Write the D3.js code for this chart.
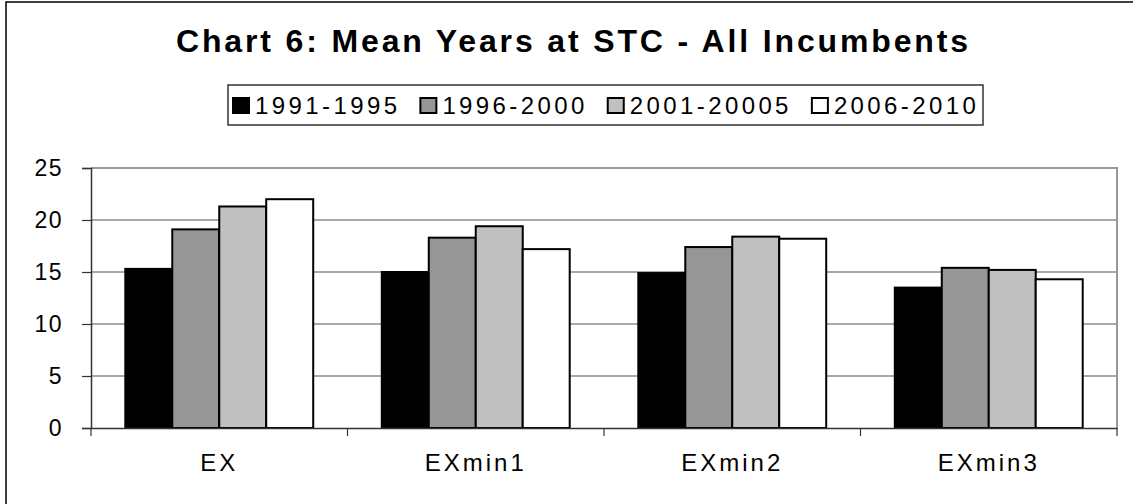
<!DOCTYPE html>
<html>
<head>
<meta charset="utf-8">
<script src="https://cdn.jsdelivr.net/npm/d3@7"></script>
<style>
  body { margin:0; background:#fff; }
  svg text { font-family:"Liberation Sans", Arial, sans-serif; fill:#000; }
</style>
</head>
<body>
<div id="chart"></div>
<script>
// data
var categories=["EX","EXmin1","EXmin2","EXmin3"];
var seriesNames=["1991-1995","1996-2000","2001-20005","2006-2010"];
var s1991=[15.3,15.0,14.9,13.5];
var s1996=[19.1,18.3,17.4,15.4];
var s2001=[21.3,19.4,18.4,15.2];
var s2006=[22.0,17.2,18.2,14.3];
var yTicks=[0,5,10,15,20,25];
var seriesColors=["#000000","#969696","#c0c0c0","#ffffff"];

var w=1133, h=504;
var plot={left:91, right:1117, top:168, bottom:428};

var svg=d3.select("#chart").append("svg")
          .attr("width",w)
          .attr("height",h);

svg.append("rect").attr("width",w).attr("height",h).attr("fill","#fff");

// outer chart frame (clipped on the right and bottom like the original)
svg.append("rect")
   .attr("x",6).attr("y",2)
   .attr("width",w+20).attr("height",h+20)
   .attr("fill","none")
   .attr("stroke","#000")
   .attr("stroke-width",1.5);

//Title
svg.append("text")
   .attr("x",572)
   .attr("y",52)
   .attr("text-anchor","middle")
   .attr("font-size",32)
   .attr("font-weight","bold")
   .attr("textLength",792)
   .attr("lengthAdjust","spacing")
   .text("Chart 6: Mean Years at STC - All Incumbents");

//Scales
var xScale=d3.scaleBand()
             .domain(categories)
             .range([plot.left,plot.right]);
var xInner=d3.scaleBand()
             .domain(seriesNames)
             .range([0,xScale.bandwidth()])
             .paddingInner(0)
             .paddingOuter(0.73);
var yScale=d3.scaleLinear()
             .domain([0,25])
             .range([plot.bottom,plot.top]);

//Gridlines
svg.append("g")
   .selectAll("line")
   .data(yTicks.filter(function(d) {return d>0 && d<25;}))
   .enter()
   .append("line")
   .attr("x1",plot.left).attr("x2",plot.right)
   .attr("y1",function(d) {return yScale(d);})
   .attr("y2",function(d) {return yScale(d);})
   .attr("stroke","#555")
   .attr("stroke-width",1.2);

//Plot area border (top and right)
svg.append("path")
   .attr("d","M"+plot.left+","+yScale(25)+"H"+plot.right+"V"+plot.bottom)
   .attr("fill","none")
   .attr("stroke","#999")
   .attr("stroke-width",2);

//Bars
var series=[s1991,s1996,s2001,s2006];
series.forEach(function(vals,i) {
    svg.append("g")
       .selectAll("rect")
       .data(vals)
       .enter()
       .append("rect")
       .attr("x",function(d,j) {return xScale(categories[j])+xInner(seriesNames[i]);})
       .attr("y",function(d) {return yScale(d);})
       .attr("width",xInner.bandwidth())
       .attr("height",function(d) {return yScale(0)-yScale(d);})
       .attr("fill",seriesColors[i])
       .attr("stroke","#000")
       .attr("stroke-width",2);
});

//Y axis
var yAxis=d3.axisLeft(yScale).tickValues(yTicks).tickSize(9).tickPadding(19);
var gy=svg.append("g")
          .attr("transform","translate("+plot.left+",0)")
          .call(yAxis);
gy.select(".domain").attr("stroke","#333").attr("stroke-width",1.5);
gy.selectAll(".tick line").attr("stroke","#333").attr("stroke-width",1.2);
gy.selectAll(".tick text")
  .attr("font-size",23)
  .attr("font-family","Liberation Sans, Arial, sans-serif")
  .attr("letter-spacing",1.5)
  .attr("fill","#000");

//X axis
var xAxis=d3.axisBottom(xScale).tickSize(0).tickPadding(26);
var gx=svg.append("g")
          .attr("transform","translate(0,"+plot.bottom+")")
          .call(xAxis);
gx.select(".domain").attr("stroke","#333").attr("stroke-width",1.5);
gx.selectAll(".tick text")
  .attr("font-size",24)
  .attr("font-family","Liberation Sans, Arial, sans-serif")
  .attr("letter-spacing",3)
  .attr("fill","#000");
//category separator ticks
svg.append("g")
   .selectAll("line")
   .data(categories.concat(["end"]))
   .enter()
   .append("line")
   .attr("x1",function(d,i) {return plot.left+i*xScale.step();})
   .attr("x2",function(d,i) {return plot.left+i*xScale.step();})
   .attr("y1",plot.bottom)
   .attr("y2",plot.bottom+8)
   .attr("stroke","#333")
   .attr("stroke-width",1.2);

//Legend
var legend=svg.append("g");
legend.append("rect")
      .attr("x",228).attr("y",85)
      .attr("width",755).attr("height",40)
      .attr("fill","#fff")
      .attr("stroke","#333")
      .attr("stroke-width",1.5);
var lx=233;
seriesNames.forEach(function(name,i) {
    legend.append("rect")
          .attr("x",lx).attr("y",98)
          .attr("width",16).attr("height",15)
          .attr("fill",seriesColors[i])
          .attr("stroke","#000")
          .attr("stroke-width",2);
    var t=legend.append("text")
                .attr("x",lx+22)
                .attr("y",114)
                .attr("font-size",24)
                .attr("letter-spacing",3.4)
                .text(name);
    lx=lx+22+t.node().getComputedTextLength()+20;
});
</script>
</body>
</html>
